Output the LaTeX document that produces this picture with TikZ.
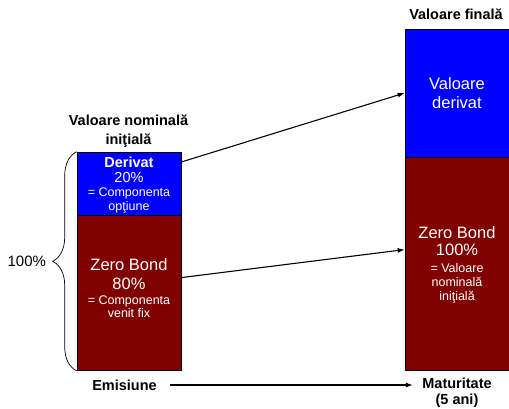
\documentclass[tikz,border=0pt]{standalone}
\usepackage{fontspec}
\setmainfont{Liberation Sans}
\usetikzlibrary{positioning,arrows.meta,decorations.pathreplacing}

\definecolor{bondred}{RGB}{128,0,0}
\newcommand{\txtbig}{\fontsize{16.5}{19}\selectfont}
\newcommand{\txtmid}{\fontsize{14.5}{17}\selectfont}
\newcommand{\txtsmall}{\fontsize{12.5}{14}\selectfont}
\newcommand{\txttitle}{\fontsize{14.5}{19}\selectfont\bfseries}

\begin{document}
\begin{tikzpicture}[x=1pt, y=-1pt,
    part/.style={draw=black, line width=0.6pt, minimum width=104pt, inner sep=0pt},
    deriv/.style={part, fill=blue},
    bond/.style={part, fill=bondred},
    inside/.style={text=white, align=center, font=\txtsmall},
    title/.style={font=\txttitle, align=center},
    link/.style={-{Latex[length=7pt,width=5pt]}, line width=1.1pt},
    brace/.style={decorate, decoration={brace,amplitude=24pt}, line width=0.7pt},
    node distance = 0pt]
  \useasboundingbox (0,0) rectangle (509,409);

  % initial value
  \node[deriv, minimum height=63pt] (dL) at (129,183.5) {};
  \node[bond, minimum height=155pt] (zL) [below = of dL] {};
  \node[inside] (dLt) at ([yshift=-2pt]dL.center) {{\txtmid\bfseries Derivat}\\[1pt] {\txtmid 20\%}\\ = Componenta\\ opţiune};
  \node[inside] (zLt) at ([yshift=5pt]zL.center) {{\txtbig Zero Bond}\\[5pt] {\txtbig 80\%}\\[1pt] = Componenta\\[-1pt] venit fix};
  \node[title] (tL) at (128.5,131.5) {Valoare nominală\\ iniţială};

  % final value
  \node[deriv, minimum height=128pt] (dR) at (457,93) {};
  \node[bond, minimum height=213pt] (zR) [below = of dR] {};
  \node[inside] (dRt) at (dR) {{\txtbig Valoare}\\[5pt] {\txtbig derivat}};
  \node[inside] (zRt) at ([yshift=-1pt]zR.center) {{\txtbig Zero Bond}\\[3pt] {\txtbig 100\%}\\[3pt] = Valoare\\ nominală\\ iniţială};
  \node[title] (tR) at (456,14) {Valoare finală};

  % 100%
  \draw[brace] (zL.south west) -- (dL.north west)
    node[midway, left = 27pt, font=\fontsize{15}{17}\selectfont] (pct) {100\%};

  % time axis
  \node[title] (emis) at (124.5,385) {Emisiune};
  \node[title] (mat) at (457,393) {Maturitate\\[-3pt] (5 ani)};

  \draw[link] ([yshift=21.5pt]dL.east) -- (dR.west);
  \draw[link] ([yshift=15.5pt]zL.east) -- ([yshift=14.5pt]zR.west);
  \draw[link, shorten <=10pt, shorten >=6pt] (emis.east) -- (emis -| mat.west);
\end{tikzpicture}
\end{document}
